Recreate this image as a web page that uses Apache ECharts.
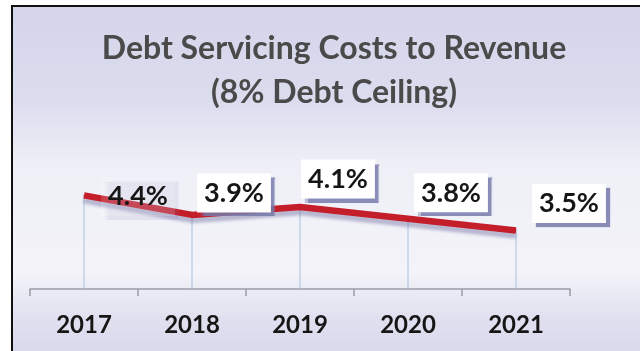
<!DOCTYPE html>
<html>
<head>
<meta charset="utf-8">
<script src="https://cdn.jsdelivr.net/npm/echarts@6/dist/echarts.min.js"></script>
<style>
  html, body { margin: 0; padding: 0; background: #ffffff; }
  #chart { width: 640px; height: 351px; }
</style>
</head>
<body>
<div id="chart"></div>
<script>
// Debt servicing costs as a share of revenue, by fiscal year
const years = ['2017', '2018', '2019', '2020', '2021'];
const ratioPct = [4.4, 3.9, 4.1, 3.8, 3.5];
const titleText = 'Debt Servicing Costs to Revenue\n(8% Debt Ceiling)';

// Callout placement relative to each point (x, y in px)
const calloutShift = [[54, 1], [42, -22], [38, -28], [43, -26], [53, -27]];

const chart = echarts.init(document.getElementById('chart'), null, { renderer: 'canvas' });

const calloutBase = {
  show: true,
  position: 'inside',
  formatter: p => p.value.toFixed(1) + '%',
  fontFamily: 'Lato',
  fontWeight: 'bold',
  fontSize: 27,
  color: '#161616',
  backgroundColor: '#ffffff',
  padding: [7, 7, 5, 7],
  shadowColor: 'rgba(118,122,170,0.85)',
  shadowOffsetX: 4,
  shadowOffsetY: 4,
  shadowBlur: 1
};

const lineData = ratioPct.map((v, i) => ({
  value: v,
  label: Object.assign({}, calloutBase, {
    offset: calloutShift[i],
    backgroundColor: i === 0 ? 'rgba(255,255,255,0.15)' : '#ffffff'
  })
}));

chart.setOption({
  animation: false,
  graphic: [{
    type: 'rect',
    z: -10,
    shape: { x: 12, y: 6, width: 660, height: 380 },
    style: {
      fill: new echarts.graphic.LinearGradient(0, 0, 0, 1, [
        { offset: 0, color: '#d5d5ea' },
        { offset: 0.25, color: '#dcdcef' },
        { offset: 0.42, color: '#efeff7' },
        { offset: 0.7, color: '#f3f3f9' },
        { offset: 0.82, color: '#e0e0f0' },
        { offset: 1, color: '#d1d1e8' }
      ]),
      stroke: '#111111',
      lineWidth: 2
    }
  }],
  title: {
    text: titleText,
    left: 329,
    textAlign: 'center',
    top: 22,
    textStyle: {
      fontFamily: 'Lato',
      fontWeight: 'bold',
      fontSize: 32,
      lineHeight: 44,
      color: '#4a4a4a'
    }
  },
  grid: { left: 30, right: 70, top: 133, bottom: 62 },
  xAxis: {
    type: 'category',
    data: years,
    boundaryGap: true,
    axisLine: { lineStyle: { color: '#9a9aa8', width: 1.5 } },
    axisTick: { show: true, length: 7, lineStyle: { color: '#9a9aa8', width: 1.5 } },
    axisLabel: {
      margin: 24,
      fontFamily: 'Lato',
      fontWeight: 'bold',
      fontSize: 24,
      color: '#161616'
    }
  },
  yAxis: {
    type: 'value',
    min: 2,
    max: 6,
    show: false
  },
  series: [
    {
      // thin drop lines from each point to the axis
      type: 'bar',
      data: ratioPct,
      barWidth: 1,
      itemStyle: { color: '#a9c0dd' },
      silent: true,
      z: 1
    },
    {
      type: 'line',
      data: lineData,
      symbol: 'circle',
      symbolSize: 1,
      itemStyle: { color: '#c41e2a' },
      lineStyle: {
        color: '#c41e2a',
        width: 6.5,
        shadowColor: 'rgba(110,110,160,0.45)',
        shadowOffsetY: 5,
        shadowBlur: 3
      },
      z: 3
    }
  ]
});
</script>
</body>
</html>
